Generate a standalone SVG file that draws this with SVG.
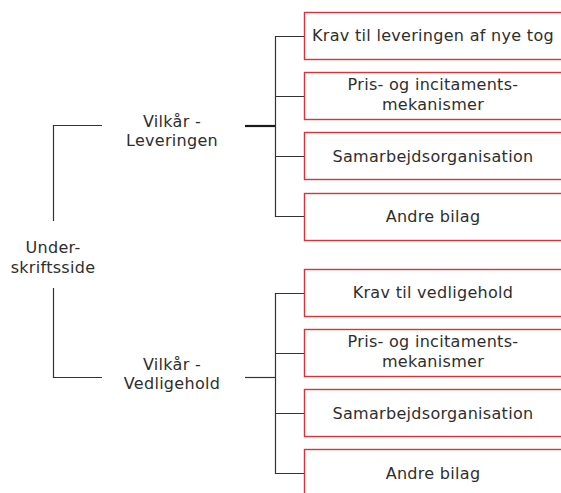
<svg xmlns="http://www.w3.org/2000/svg" width="561" height="493" viewBox="0 0 561 493">
  <style>
    .box { fill: #ffffff; stroke: #d9343c; stroke-width: 1.4; }
    .lbl { font-family: "DejaVu Sans", "Liberation Sans", sans-serif; font-size: 16px; letter-spacing: 0.3px; fill: #2e2e2e; text-anchor: middle; }
    .con { fill: none; stroke: #333333; stroke-width: 1.2; }
    .con-thick { fill: none; stroke: #1a1a1a; stroke-width: 2.2; }
  </style>
  <rect width="561" height="493" fill="#ffffff"/>

  <!-- connectors -->
  <g id="connectors">
    <path class="con" d="M102 125.5 H53.5 V221"/>
    <path class="con" d="M53.5 288 V377.5 H102"/>
    <path class="con-thick" d="M245 126 H275"/>
    <path class="con" d="M304 36.5 H275.5 V216.5 H304 M275.5 96.5 H304 M275.5 156.5 H304"/>
    <path class="con" d="M245 377.5 H275"/>
    <path class="con" d="M304 293.5 H275.5 V473.5 H304 M275.5 353.5 H304 M275.5 413.5 H304"/>
  </g>

  <!-- root -->
  <g id="root">
    <text class="lbl" x="53" y="253">Under-</text>
    <text class="lbl" x="53" y="273">skriftsside</text>
  </g>

  <!-- branch headings -->
  <g id="levering">
    <text class="lbl" x="172" y="127">Vilkår -</text>
    <text class="lbl" x="172" y="146">Leveringen</text>
  </g>
  <g id="vedligehold">
    <text class="lbl" x="172" y="370">Vilkår -</text>
    <text class="lbl" x="172" y="389">Vedligehold</text>
  </g>

  <!-- leaves, upper branch -->
  <g id="l1">
    <rect class="box" x="304.5" y="12.5" width="262" height="47"/>
    <text class="lbl" x="433" y="41">Krav til leveringen af nye tog</text>
  </g>
  <g id="l2">
    <rect class="box" x="304.5" y="72.5" width="262" height="47"/>
    <text class="lbl" x="433" y="90">Pris- og incitaments-</text>
    <text class="lbl" x="433" y="110">mekanismer</text>
  </g>
  <g id="l3">
    <rect class="box" x="304.5" y="132.5" width="262" height="47"/>
    <text class="lbl" x="433" y="162">Samarbejdsorganisation</text>
  </g>
  <g id="l4">
    <rect class="box" x="304.5" y="193.5" width="262" height="47"/>
    <text class="lbl" x="433" y="222">Andre bilag</text>
  </g>

  <!-- leaves, lower branch -->
  <g id="v1">
    <rect class="box" x="304.5" y="269.5" width="262" height="47"/>
    <text class="lbl" x="433" y="298">Krav til vedligehold</text>
  </g>
  <g id="v2">
    <rect class="box" x="304.5" y="329.5" width="262" height="47"/>
    <text class="lbl" x="433" y="347">Pris- og incitaments-</text>
    <text class="lbl" x="433" y="367">mekanismer</text>
  </g>
  <g id="v3">
    <rect class="box" x="304.5" y="389.5" width="262" height="47"/>
    <text class="lbl" x="433" y="419">Samarbejdsorganisation</text>
  </g>
  <g id="v4">
    <rect class="box" x="304.5" y="449.5" width="262" height="60"/>
    <text class="lbl" x="433" y="479">Andre bilag</text>
  </g>
</svg>
